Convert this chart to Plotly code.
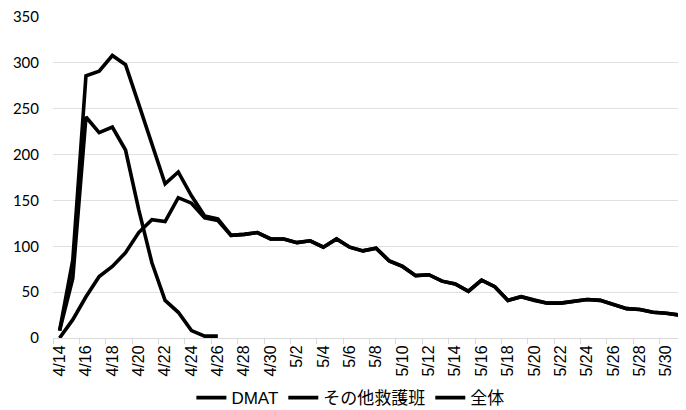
import plotly.graph_objects as go

dates = ["4/14", "4/15", "4/16", "4/17", "4/18", "4/19", "4/20", "4/21", "4/22", "4/23",
         "4/24", "4/25", "4/26", "4/27", "4/28", "4/29", "4/30", "5/1", "5/2", "5/3",
         "5/4", "5/5", "5/6", "5/7", "5/8", "5/9", "5/10", "5/11", "5/12", "5/13",
         "5/14", "5/15", "5/16", "5/17", "5/18", "5/19", "5/20", "5/21", "5/22", "5/23",
         "5/24", "5/25", "5/26", "5/27", "5/28", "5/29", "5/30", "5/31"]

dmat = [8, 65, 241, 224, 230, 205, 140, 82, 41, 28, 8, 2, 2]

other = [0, 20, 45, 67, 78, 93, 115, 129, 127, 153, 147, 131, 128,
         112, 113, 115, 108, 108, 104, 106, 99, 108, 99, 95, 98, 84,
         78, 68, 69, 62, 59, 51, 63, 56, 41, 45, 41, 38, 38, 40,
         42, 41, 36, 32, 31, 28, 27, 25]

total = [8, 85, 286, 291, 308, 298, 255, 211, 168, 181, 155, 133, 130,
         112, 113, 115, 108, 108, 104, 106, 99, 108, 99, 95, 98, 84,
         78, 68, 69, 62, 59, 51, 63, 56, 41, 45, 41, 38, 38, 40,
         42, 41, 36, 32, 31, 28, 27, 25]

series_names = ["DMAT", "その他救護班", "全体"]

fig = go.Figure()
for name, vals in zip(series_names, [dmat, other, total]):
    fig.add_trace(go.Scatter(
        x=dates[:len(vals)], y=vals, mode="lines", name=name,
        line=dict(color="#000000", width=3.6),
    ))

# the page body has an 8px default margin, so the figure is drawn at (8, 8)
font_family = "'Liberation Sans', Arial, 'Noto Sans CJK JP', sans-serif"
fig.update_layout(
    width=678, height=402,
    margin=dict(l=45, r=0, t=9, b=72, autoexpand=False),
    plot_bgcolor="white", paper_bgcolor="white",
    font=dict(family=font_family, size=14, color="#000000"),
    showlegend=True,
    legend=dict(orientation="h", xref="container", x=0.505, xanchor="center",
                y=-0.187, yanchor="middle",
                font=dict(size=17, color="#000000"), itemwidth=30,
                tracegroupgap=0),
)
fig.update_xaxes(
    type="category", categoryorder="array", categoryarray=dates,
    range=[-0.5, len(dates) - 0.5], automargin=False,
    tickmode="linear", tick0=0, dtick=2, tickangle=-90,
    tickfont=dict(size=16, color="#000000"),
    showgrid=False, showline=True, linecolor="#d9d9d9", linewidth=1,
    ticks="outside", ticklen=5, tickcolor="#d9d9d9", tickson="boundaries",
)
fig.update_yaxes(
    range=[0, 350], dtick=50, tick0=0, automargin=False,
    ticklabeloverflow="allow",
    showgrid=True, gridcolor="#e0e0e0", gridwidth=1,
    zeroline=False, showline=False,
    ticks="outside", ticklen=10, tickcolor="white",
    tickfont=dict(family="Lato, 'Liberation Sans', sans-serif", size=15, color="#000000"),
)
fig.write_html("out.html")
